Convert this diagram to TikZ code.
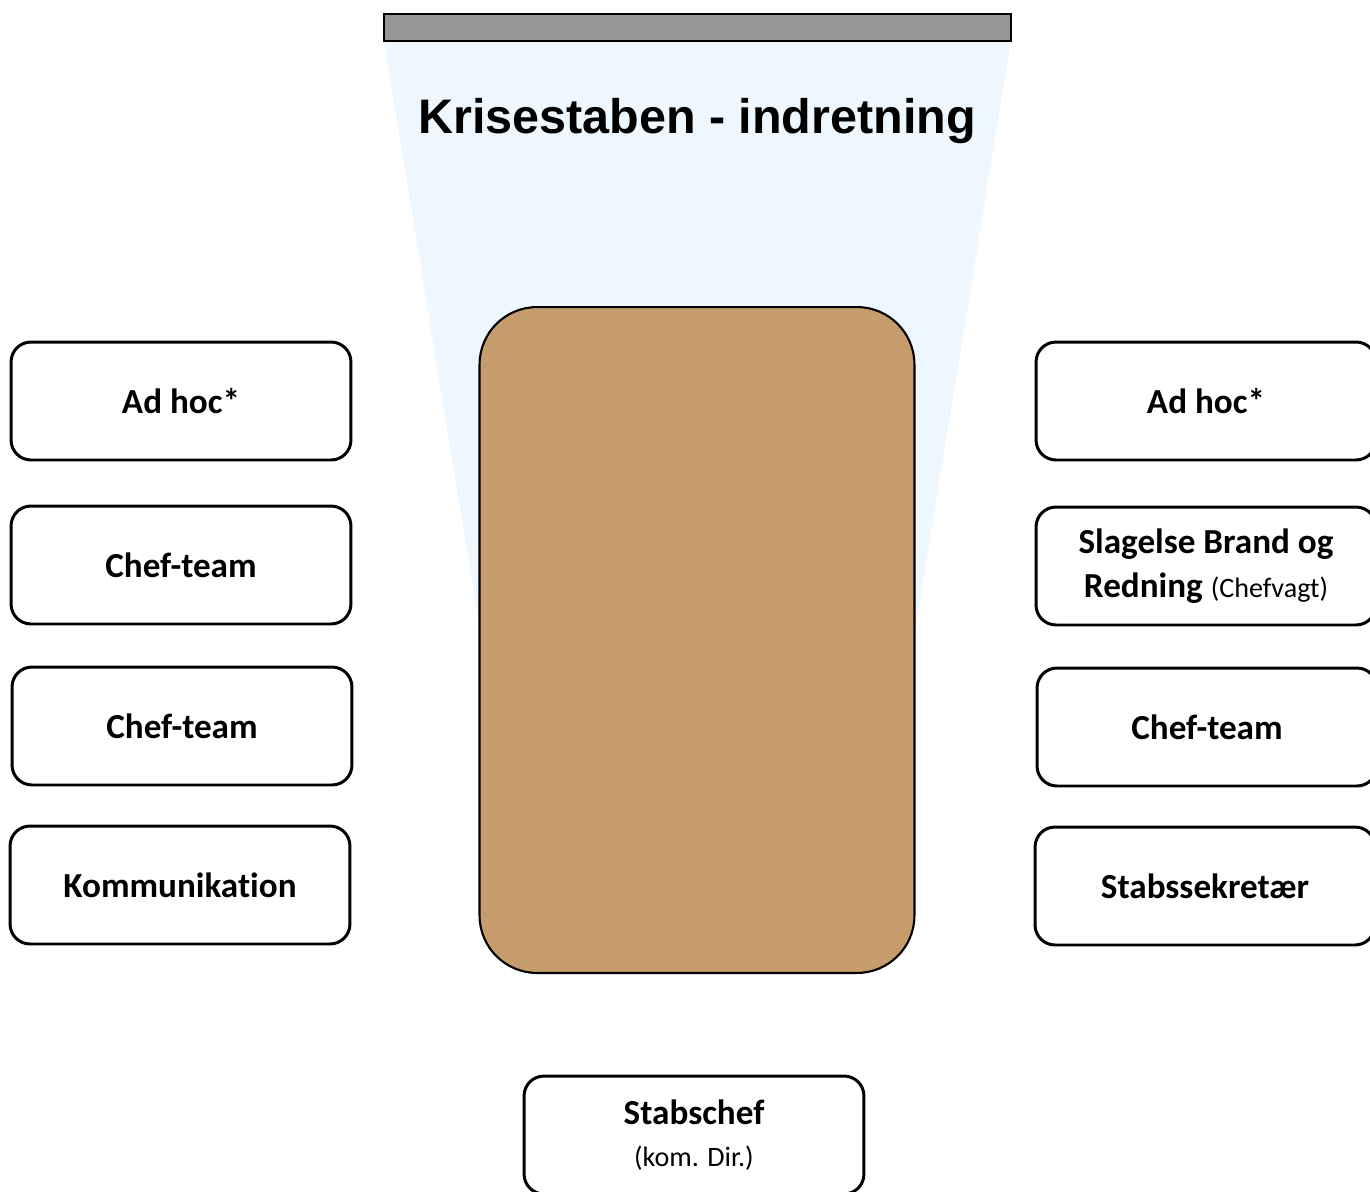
\documentclass[tikz,border=0pt]{standalone}
\usepackage{fontspec}
\setmainfont{Carlito}[Ligatures=NoCommon]
\newfontfamily\titlefont{Liberation Sans}
\definecolor{tablebrown}{HTML}{C69C6D}
\definecolor{lightsky}{HTML}{EEF7FD}
\definecolor{bargray}{HTML}{969696}

\begin{document}
\begin{tikzpicture}[x=0.02cm,y=-0.02cm,
  seat/.style={draw=black,line width=1.7pt,fill=white,rounded corners=0.4cm,minimum width=6.8cm,minimum height=2.36cm,inner sep=0pt,align=center,font=\fontsize{20}{25}\selectfont\bfseries}]
\useasboundingbox (0,0) rectangle (1370,1191);
% screen and its light
\fill[lightsky] (384,41) -- (1011,41) -- (912,650) -- (483,650) -- cycle;
\draw[fill=bargray,line width=1.2pt] (384,14) rectangle (1011,41);
\node[font=\titlefont\fontsize{27.6}{32}\selectfont\bfseries] (title) at (697,121) {Krisestaben - indretning};
% table
\node[draw=black,line width=1.2pt,fill=tablebrown,rounded corners=1.15cm,minimum width=8.7cm,minimum height=13.32cm] (table) at (697,640) {};
% left side
\node[seat] (l1) at (181,401) {Ad hoc*};
\node[seat] (l2) at (181,565) {Chef-team};
\node[seat] (l3) at (182,726) {Chef-team};
\node[seat] (l4) at (180,885) {Kommunikation};
% right side
\node[seat] (r1) at (1206,401) {Ad hoc*};
\node[seat] (r2) at (1206,566) {Slagelse Brand og\\Redning {\fontsize{16}{20}\selectfont\mdseries(Chefvagt)}};
\node[seat] (r3) at (1207,727) {Chef-team};
\node[seat] (r4) at (1205,886) {Stabssekretær};
% chair at the end
\node[seat] (chief) at (694,1135) {Stabschef\\[-1pt]{\fontsize{16}{20}\selectfont\mdseries(kom. Dir.)}};
\end{tikzpicture}
\end{document}
